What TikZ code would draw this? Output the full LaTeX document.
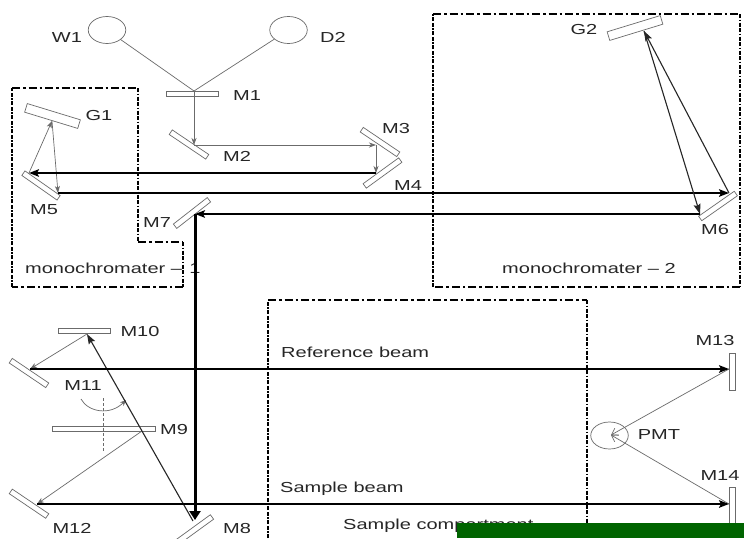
\documentclass[tikz,border=0pt]{standalone}
\usepackage{fontspec}
\setmainfont[FakeStretch=1.38]{Liberation Sans}
\usetikzlibrary{arrows.meta,shapes.geometric}
\definecolor{thin}{gray}{0.42}
\definecolor{ink}{gray}{0.15}
\definecolor{bar}{RGB}{0,100,0}
\tikzset{
  x=1pt,y=-1pt,
  mirror/.style={draw=thin,line width=0.7pt,fill=white,inner sep=0pt,minimum width=#1},
  mirror/.default=44pt,
  lamp/.style={draw=thin,line width=0.7pt,ellipse,inner sep=0pt,minimum width=37.5pt,minimum height=27pt},
  lab/.style={font=\fontsize{14.5}{16}\selectfont,text=ink,inner sep=0pt,anchor=base},
  labw/.style={lab,anchor=base west},
  thinbeam/.style={draw=thin,line width=0.7pt},
  thintip/.style={thinbeam,-{Stealth[length=7pt,width=5pt,inset=2pt]}},
  barbtip/.style={thinbeam,-{Straight Barb[length=6pt,width=8pt]}},
  midbeam/.style={draw=black!85,line width=1.1pt,-{Stealth[length=10pt,width=7pt,inset=1.5pt]}},
  thickbeam/.style={draw=black,line width=1.9pt,-{Stealth[length=10pt,width=7.5pt,inset=2pt]}},
  mainbeam/.style={draw=black,line width=3pt,-{Stealth[length=9pt,width=11pt,inset=0pt]}},
  hbox/.style={draw=black,line width=1.8pt,dash pattern=on 8pt off 3pt on 2.5pt off 3pt},
  vbox/.style={draw=black,line width=2.6pt,dash pattern=on 4pt off 1.5pt on 1.5pt off 1.5pt on 4pt off 1.5pt},
}
\begin{document}
\begin{tikzpicture}
\useasboundingbox (0,0) rectangle (744,538);
\clip (0,0) rectangle (744,538);
\fill[white] (0,0) rectangle (744,538);
% dash-dotted enclosures
\draw[hbox] (12,88) -- (138,88);
\draw[vbox] (138,88) -- (138,242);
\draw[hbox] (138,242) -- (183,242);
\draw[vbox] (183,242) -- (183,287);
\draw[hbox] (183,287) -- (12,287);
\draw[vbox] (12,287) -- (12,88);
\draw[hbox] (433,14) -- (740,14);
\draw[vbox] (740,14) -- (740,287);
\draw[hbox] (740,287) -- (433,287);
\draw[vbox] (433,287) -- (433,14);
\draw[vbox] (268,538) -- (268,300);
\draw[hbox] (268,300) -- (587,300);
\draw[vbox] (587,300) -- (587,538);
% sources and detector
\node[lamp] (W1) at (107,30) {};
\node[lamp] (D2) at (288.5,30) {};
\node[lamp] (PMT) at (609.5,435.5) {};
% mirrors and gratings
\node[mirror=52pt,minimum height=5pt] (M1) at (192,93.5) {};
\node[mirror,minimum height=5.5pt,rotate=-34] (M2) at (189,144.5) {};
\node[mirror,minimum height=5.5pt,rotate=-34] (M3) at (380,142) {};
\node[mirror,minimum height=5.5pt,rotate=36] (M4) at (382.5,173) {};
\node[mirror=43pt,minimum height=5.5pt,rotate=-35] (M5) at (41,185.5) {};
\node[mirror=43.5pt,minimum height=5.5pt,rotate=35] (M6) at (718,206) {};
\node[mirror=43pt,minimum height=5.5pt,rotate=38] (M7) at (192,213) {};
\node[mirror=43pt,minimum height=5.5pt,rotate=36] (M8) at (194.6,529.6) {};
\node[mirror=103pt,minimum height=4.5pt] (M9) at (103.5,429) {};
\node[mirror=52pt,minimum height=5pt] (M10) at (84,330.5) {};
\node[mirror,minimum height=5.5pt,rotate=-34] (M11) at (29,373) {};
\node[mirror,minimum height=5.5pt,rotate=-34] (M12) at (29,503.7) {};
\node[mirror=6pt,minimum height=37pt] (M13) at (732,371.5) {};
\node[mirror=6pt,minimum height=37pt] (M14) at (732,505.5) {};
\node[mirror=55.5pt,minimum height=9pt,rotate=-17] (G1) at (52.5,116) {};
\node[mirror=55.5pt,minimum height=9pt,rotate=17] (G2) at (635,28) {};
% beam points
\coordinate (p1) at (194,91);
\coordinate (p2) at (194,145);
\coordinate (p3) at (376,145);
\coordinate (p4) at (376,173);
\coordinate (p5a) at (29,173);
\coordinate (p5b) at (58,193);
\coordinate (pG1) at (52,121);
\coordinate (p6a) at (729,193);
\coordinate (p6b) at (700,214);
\coordinate (pG2) at (644,31);
\coordinate (p7) at (195,214);
\coordinate (p8) at (195,520);
\coordinate (p8b) at (193,521);
\coordinate (p9) at (142,431);
\coordinate (p10) at (87,334);
\coordinate (p11) at (30,369);
\coordinate (p12) at (37,504);
\coordinate (p13) at (729,369);
\coordinate (p14) at (729,504);
\coordinate (pp) at (611,435);
\coordinate (m9a) at (103,398);
\coordinate (m9b) at (103,451);
\coordinate (arcA) at (81,399);
\coordinate (arcB) at (126,400);
% labels
\node[lab] at (67,42) {W1};
\node[lab] at (333,42) {D2};
\node[lab] at (247,100) {M1};
\node[lab] at (99,120) {G1};
\node[lab] at (237,161) {M2};
\node[lab] at (396,133) {M3};
\node[lab] at (408,190) {M4};
\node[lab] at (44,214) {M5};
\node[lab] at (715,234) {M6};
\node[lab] at (157,227) {M7};
\node[lab] at (584,34) {G2};
\node[lab] at (237,533) {M8};
\node[lab] at (174,434) {M9};
\node[lab] at (140,336) {M10};
\node[lab] at (83,390) {M11};
\node[lab] at (72,533) {M12};
\node[lab] at (715,345) {M13};
\node[lab] at (720,480) {M14};
\node[lab] at (659,439) {PMT};
\node[labw] at (25,273) {monochromater –\kern 7.5pt 1};
\node[labw] at (502,273) {monochromater – 2};
\node[labw] at (281,357) {Reference beam};
\node[labw] at (280,492) {Sample beam};
\node[labw] at (343,529) {Sample compartment};
% thin beams
\draw[thinbeam] (W1) -- (p1);
\draw[thinbeam] (D2) -- (p1);
\draw[thintip] (p1) -- (p2);
\draw[thintip] (p2) -- (p3);
\draw[thintip] (p3) -- (p4);
\draw[thintip] (p5a) -- (pG1);
\draw[thintip] (pG1) -- (p5b);
\draw[thintip] (p10) -- (p11);
\draw[thintip] (p9) -- (p12);
\draw[barbtip] (p13) -- (pp);
\draw[barbtip] (p14) -- (pp);
\draw[thinbeam,dash pattern=on 3pt off 2pt] (m9a) -- (m9b);
\draw[thinbeam,-{Stealth[length=6pt,width=5pt]}] (arcA) .. controls (88,412) and (110,416) .. (arcB);
% heavier beams
\draw[thickbeam] (p4) -- (p5a);
\draw[thickbeam] (p5b) -- (p6a);
\draw[midbeam] (p6a) -- (pG2);
\draw[midbeam] (pG2) -- (p6b);
\draw[thickbeam] (p6b) -- (p7);
\draw[mainbeam] (p7) -- (p8);
\draw[midbeam] (p8b) -- (p10);
\draw[thickbeam] (p11) -- (p13);
\draw[thickbeam] (p12) -- (p14);
% covering bar
\fill[bar] (457,523) rectangle (744,538);
\end{tikzpicture}
\end{document}
